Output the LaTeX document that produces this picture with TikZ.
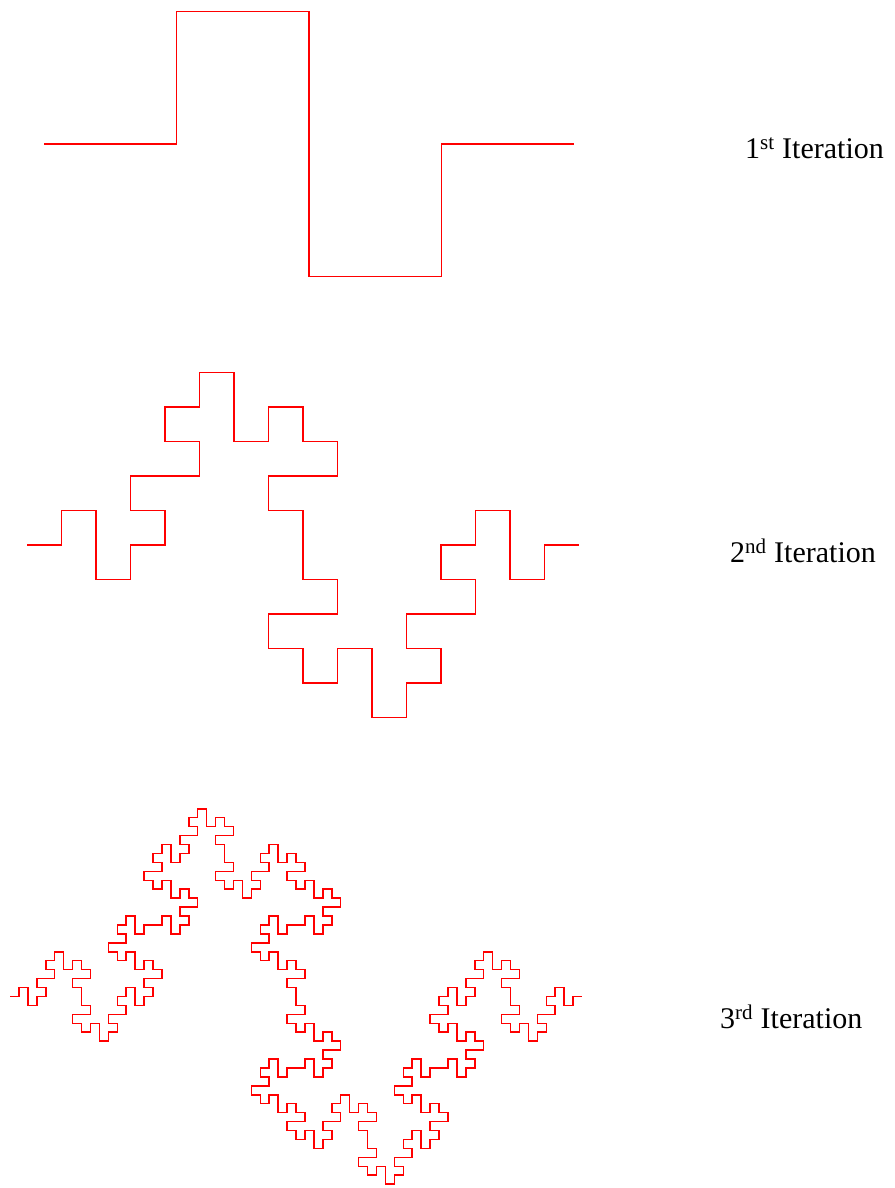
\documentclass[tikz,border=0pt]{standalone}
\usepackage{fontspec}
\setmainfont{Liberation Serif}
% turtle-style generator for the Minkowski sausage: F -> F+F-F-FF+F+F-F
\newcount\mdir
\def\mstep{1}
\def\macc{}
\def\mseg{\xdef\macc{\macc -- ++(\ifcase\mdir \mstep,0\or 0,\mstep\or -\mstep,0\or 0,-\mstep\fi)}}
\def\mtl{\global\advance\mdir 1 \ifnum\mdir>3 \global\advance\mdir -4 \fi}
\def\mtr{\global\advance\mdir -1 \ifnum\mdir<0 \global\advance\mdir 4 \fi}
\def\mink#1{\ifnum#1=0 \mseg\else\expandafter\minkrec\expandafter{\the\numexpr#1-1\relax}\fi}
\def\minkrec#1{\mink{#1}\mtl\mink{#1}\mtr\mink{#1}\mtr\mink{#1}\mink{#1}\mtl\mink{#1}\mtl\mink{#1}\mtr\mink{#1}}
\def\drawmink#1#2#3{\global\mdir=0 \gdef\macc{}\def\mstep{#2}\mink{#1}%
  \edef\mtmp{\noexpand\draw[curve] #3 \macc;}\mtmp}
\tikzset{
  curve/.style={draw=red, line width=1.5pt, line join=miter, line cap=butt},
  lbl/.style={anchor=base west, inner sep=0pt, font=\fontsize{30}{34}\selectfont}
}
\begin{document}
\begin{tikzpicture}[x=1pt,y=1pt]
\useasboundingbox (0,0) rectangle (894,1188);
\drawmink{1}{132.5}{(44,1044)}
\drawmink{2}{34.5}{(27,643)}
\drawmink{3}{8.9375}{(10,191.5)}
\node[lbl] (l1) at (745,1029) {1\textsuperscript{st} Iteration};
\node[lbl] (l2) at (730,625) {2\textsuperscript{nd} Iteration};
\node[lbl] (l3) at (720,159) {3\textsuperscript{rd} Iteration};
\end{tikzpicture}
\end{document}
